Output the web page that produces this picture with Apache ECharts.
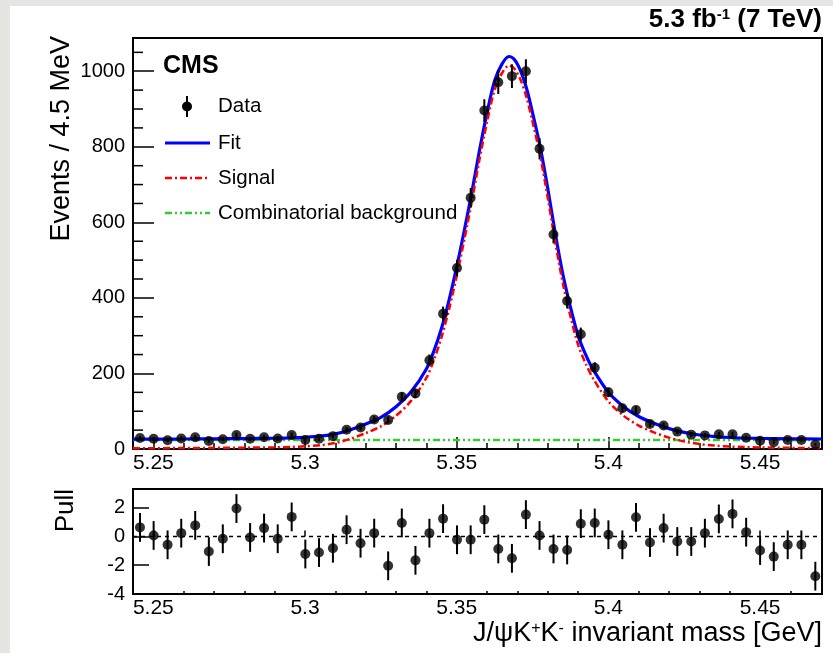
<!DOCTYPE html>
<html><head><meta charset="utf-8">
<script src="https://cdn.jsdelivr.net/npm/echarts@6/dist/echarts.min.js"></script>
<style>html,body{margin:0;padding:0;background:#fff}#c{width:833px;height:653px}</style>
</head><body><div id="c"></div>
<script>
// ---- data ----
const xMin = 5.2433, xMax = 5.4704;
const binStart = 5.2456, binWidth = 0.004542, nBins = 50;
const massBins = Array.from({length: nBins}, (_, i) => +(binStart + i * binWidth).toFixed(4));
const events = [29,27,23,28,31,21,26,37,27,31,28,37,24,27,34,51,57,78,77,138,147,235,358,479,665,896,971,987,1000,795,568,392,304,215,150,108,103,66,62,46,38,36,39,39,30,22,18,24,24,12];
const eventErr = [5.4,5.2,4.8,5.3,5.6,4.6,5.1,6.1,5.2,5.6,5.3,6.1,4.9,5.2,5.8,7.1,7.5,8.8,8.8,11.7,12.1,15.3,18.9,21.9,25.8,29.9,31.2,31.4,31.6,28.2,23.8,19.8,17.4,14.7,12.2,10.4,10.1,8.1,7.9,6.8,6.2,6,6.2,6.2,5.5,4.7,4.2,4.9,4.9,3.5];
const pulls = [0.63,0.07,-0.58,0.23,0.77,-1.05,-0.16,1.94,-0.07,0.58,-0.16,1.36,-1.22,-1.12,-0.82,0.47,-0.47,0.23,-2.04,0.94,-1.66,0.23,1.24,-0.23,-0.23,1.17,-0.87,-1.52,1.52,0.07,-0.87,-0.94,0.89,0.94,0.12,-0.58,1.33,-0.42,0.58,-0.35,-0.35,0.23,1.22,1.57,0.30,-0.98,-1.40,-0.58,-0.58,-2.76];
const curveMass = [5.2433,5.25,5.26,5.27,5.28,5.29,5.2956,5.30,5.305,5.31,5.315,5.32,5.325,5.33,5.335,5.34,5.3425,5.345,5.3475,5.35,5.3525,5.355,5.3575,5.36,5.3625,5.365,5.3672,5.369,5.371,5.373,5.375,5.3775,5.38,5.3825,5.385,5.3875,5.39,5.3925,5.395,5.40,5.405,5.41,5.415,5.42,5.425,5.43,5.435,5.44,5.445,5.45,5.46,5.4704];
const fitEvents = [26,26.2,26.5,27,27.5,28.5,29.5,31,34,40,51,66,84,112,152,212,260,320,395,482,578,680,790,890,975,1020,1039,1031,1002,955,890,800,690,570,462,375,300,250,210,150,112,86,68,54,44,37,33,30.5,29,28,27,26.5];
const signalEvents = [2,2.2,2.5,3,3.5,4.5,5.5,7,10,16,27,42,60,88,128,188,236,296,371,458,554,656,766,866,951,996,1015,1007,978,931,866,776,666,546,438,351,276,226,186,126,88,62,44,30,20,13,9,6.5,5,4,3,2.5];
const bkgMass = [5.2433, 5.4704];
const bkgEvents = [24, 24];
const xMajorTicks = [5.25, 5.3, 5.35, 5.4, 5.45];
const xMinorTicks = [5.26,5.27,5.28,5.29,5.31,5.32,5.33,5.34,5.36,5.37,5.38,5.39,5.41,5.42,5.43,5.44,5.46];
const yMajorTicks = [0, 200, 400, 600, 800, 1000];
const yMinorTicks = [50,100,150,250,300,350,450,500,550,650,700,750,850,900,950,1050];
const pullTicks = [-4, -2, 0, 2];
const yMax = 1088, pullMin = -4, pullMax = 3.3;

// ---- chart ----
const FONT = 'Liberation Sans, Arial, Helvetica, sans-serif';
const chart = echarts.init(document.getElementById('c'), null, {renderer: 'canvas'});
const fmtX = v => String(+(+v).toFixed(2));
const fmtY = v => String(Math.round(v));

function xAxisPair(grid, majorLen, minorLen, labelMargin) {
  return [
    {gridIndex: grid, type: 'value', min: xMin, max: xMax, position: 'bottom',
     axisLine: {show: false},
     axisTick: {show: true, inside: true, length: majorLen, customValues: xMajorTicks, lineStyle: {color: '#000', width: 1.5}},
     axisLabel: {show: true, customValues: xMajorTicks, formatter: fmtX, fontSize: 21, color: '#000', fontFamily: FONT, margin: labelMargin},
     splitLine: {show: false}},
    {gridIndex: grid, type: 'value', min: xMin, max: xMax, position: 'bottom',
     axisLine: {show: false},
     axisTick: {show: true, inside: true, length: minorLen, customValues: xMinorTicks, lineStyle: {color: '#000', width: 1.5}},
     axisLabel: {show: false}, splitLine: {show: false}}
  ];
}

function errRender(params, api) {
  const x = api.value(0), y = api.value(1), e = api.value(2);
  const p1 = api.coord([x, y - e]), p2 = api.coord([x, y + e]);
  return {type: 'line', shape: {x1: p1[0], y1: p1[1], x2: p2[0], y2: p2[1]},
          style: {stroke: '#000', lineWidth: 2}};
}
// minor y ticks placed through the axis scale
function minorTickRender(params, api) {
  const p = api.coord([xMin, api.value(0)]);
  return {type: 'line', shape: {x1: p[0], y1: p[1], x2: p[0] + 10, y2: p[1]},
          style: {stroke: '#000', lineWidth: 1.5}};
}

const option = {
  animation: false,
  backgroundColor: '#ffffff',
  textStyle: {fontFamily: FONT},
  grid: [
    {left: 133, top: 38, width: 689, height: 411, show: true, borderColor: '#000', borderWidth: 2, backgroundColor: '#fff'},
    {left: 133, top: 489, width: 689, height: 105, show: true, borderColor: '#000', borderWidth: 2, backgroundColor: '#fff'}
  ],
  xAxis: [].concat(xAxisPair(0, 12, 6, 4), xAxisPair(1, 6, 3, 4)),
  yAxis: [
    {gridIndex: 0, type: 'value', position: 'left', min: 0, max: yMax, axisLine: {show: false},
     axisTick: {show: true, inside: true, length: 21, customValues: yMajorTicks, lineStyle: {color: '#000', width: 1.5}},
     axisLabel: {customValues: yMajorTicks, formatter: fmtY, fontSize: 20, color: '#000', fontFamily: FONT, margin: 8},
     splitLine: {show: false}},
    {gridIndex: 1, type: 'value', position: 'left', min: pullMin, max: pullMax, axisLine: {show: false},
     axisTick: {show: true, inside: true, length: 16, customValues: pullTicks, lineStyle: {color: '#000', width: 1.5}},
     axisLabel: {customValues: pullTicks, formatter: fmtY, fontSize: 20, color: '#000', fontFamily: FONT, margin: 8},
     splitLine: {show: false}}
  ],
  series: [
    {type: 'custom', name: 'yMinorTicks', xAxisIndex: 0, yAxisIndex: 0, z: 7, silent: true, clip: false,
     renderItem: minorTickRender, data: yMinorTicks.map(v => [v])},
    {type: 'line', name: 'Combinatorial background', xAxisIndex: 0, yAxisIndex: 0, showSymbol: false, z: 2,
     data: bkgMass.map((m, i) => [m, bkgEvents[i]]),
     lineStyle: {color: '#33cc33', width: 2.5, type: [7, 3, 2, 3, 2, 3]}},
    {type: 'line', name: 'Fit', xAxisIndex: 0, yAxisIndex: 0, showSymbol: false, smooth: 0.3, z: 3,
     data: curveMass.map((m, i) => [m, fitEvents[i]]),
     lineStyle: {color: '#0000ff', width: 3.2}},
    {type: 'line', name: 'Signal', xAxisIndex: 0, yAxisIndex: 0, showSymbol: false, smooth: 0.3, z: 4,
     data: curveMass.map((m, i) => [m, signalEvents[i]]),
     lineStyle: {color: '#ff0000', width: 2.5, type: [7, 3, 2, 3]}},
    {type: 'custom', name: 'DataErr', xAxisIndex: 0, yAxisIndex: 0, z: 5,
     renderItem: errRender, data: massBins.map((m, i) => [m, events[i], eventErr[i]])},
    {type: 'scatter', name: 'Data', xAxisIndex: 0, yAxisIndex: 0, z: 6, symbol: 'circle', symbolSize: 10,
     itemStyle: {color: '#000'}, data: massBins.map((m, i) => [m, events[i]])},
    {type: 'line', name: 'Zero', xAxisIndex: 2, yAxisIndex: 1, showSymbol: false, z: 2,
     data: [[xMin, 0], [xMax, 0]], lineStyle: {color: '#000', width: 1.5, type: [4, 4]}},
    {type: 'custom', name: 'PullErr', xAxisIndex: 2, yAxisIndex: 1, z: 5,
     renderItem: errRender, data: massBins.map((m, i) => [m, pulls[i], 1])},
    {type: 'scatter', name: 'Pull', xAxisIndex: 2, yAxisIndex: 1, z: 6, symbol: 'circle', symbolSize: 10,
     itemStyle: {color: '#000'}, data: massBins.map((m, i) => [m, pulls[i]])}
  ],
  graphic: [
    {type: 'rect', shape: {x: 0, y: 0, width: 10, height: 653}, style: {fill: '#e7e5e1'}, silent: true, z: 100},
    {type: 'rect', shape: {x: 0, y: 0, width: 833, height: 6}, style: {fill: '#e7e5e1'}, silent: true, z: 100},
    {type: 'text', x: 822, y: 20, z: 100, style: {text: '5.3 fb{sup|-1} (7 TeV)', fontSize: 26, fontWeight: 'bold', fontFamily: FONT, fill: '#000', align: 'right', verticalAlign: 'middle',
      rich: {sup: {fontSize: 15, fontWeight: 'bold', fontFamily: FONT, verticalAlign: 'top', padding: [0, 0, 8, 0]}}}},
    {type: 'text', x: 163, y: 66, z: 100, style: {text: 'CMS', fontSize: 25, fontWeight: 'bold', fontFamily: FONT, fill: '#000', align: 'left', verticalAlign: 'middle'}},
    {type: 'text', x: 62, y: 36, rotation: Math.PI / 2, z: 100, style: {text: 'Events / 4.5 MeV', fontSize: 27, fontFamily: FONT, fill: '#000', align: 'right', verticalAlign: 'middle'}},
    {type: 'text', x: 66, y: 489, rotation: Math.PI / 2, z: 100, style: {text: 'Pull', fontSize: 26, fontFamily: FONT, fill: '#000', align: 'right', verticalAlign: 'middle'}},
    {type: 'text', x: 822, y: 634, z: 100, style: {text: 'J/ψK{sup|+}K{sup|-} invariant mass [GeV]', fontSize: 27, fontFamily: FONT, fill: '#000', align: 'right', verticalAlign: 'middle',
      rich: {sup: {fontSize: 16, fontFamily: FONT, verticalAlign: 'top', padding: [0, 0, 8, 0]}}}},
    // legend
    {type: 'line', shape: {x1: 187, y1: 96, x2: 187, y2: 117}, style: {stroke: '#000', lineWidth: 2}, z: 100},
    {type: 'circle', shape: {cx: 187, cy: 106.5, r: 5}, style: {fill: '#000'}, z: 100},
    {type: 'text', x: 218, y: 106, z: 100, style: {text: 'Data', fontSize: 20.5, fontFamily: FONT, fill: '#000', verticalAlign: 'middle'}},
    {type: 'line', shape: {x1: 165, y1: 143, x2: 210, y2: 143}, style: {stroke: '#0000ff', lineWidth: 3.2}, z: 100},
    {type: 'text', x: 218, y: 143, z: 100, style: {text: 'Fit', fontSize: 20.5, fontFamily: FONT, fill: '#000', verticalAlign: 'middle'}},
    {type: 'line', shape: {x1: 165, y1: 178, x2: 210, y2: 178}, style: {stroke: '#ff0000', lineWidth: 2.5, lineDash: [7, 3, 2, 3]}, z: 100},
    {type: 'text', x: 218, y: 178, z: 100, style: {text: 'Signal', fontSize: 20.5, fontFamily: FONT, fill: '#000', verticalAlign: 'middle'}},
    {type: 'line', shape: {x1: 165, y1: 213, x2: 210, y2: 213}, style: {stroke: '#33cc33', lineWidth: 2.5, lineDash: [7, 3, 2, 3, 2, 3]}, z: 100},
    {type: 'text', x: 218, y: 213, z: 100, style: {text: 'Combinatorial background', fontSize: 20.5, fontFamily: FONT, fill: '#000', verticalAlign: 'middle'}}
  ]
};
chart.setOption(option);
</script></body></html>
